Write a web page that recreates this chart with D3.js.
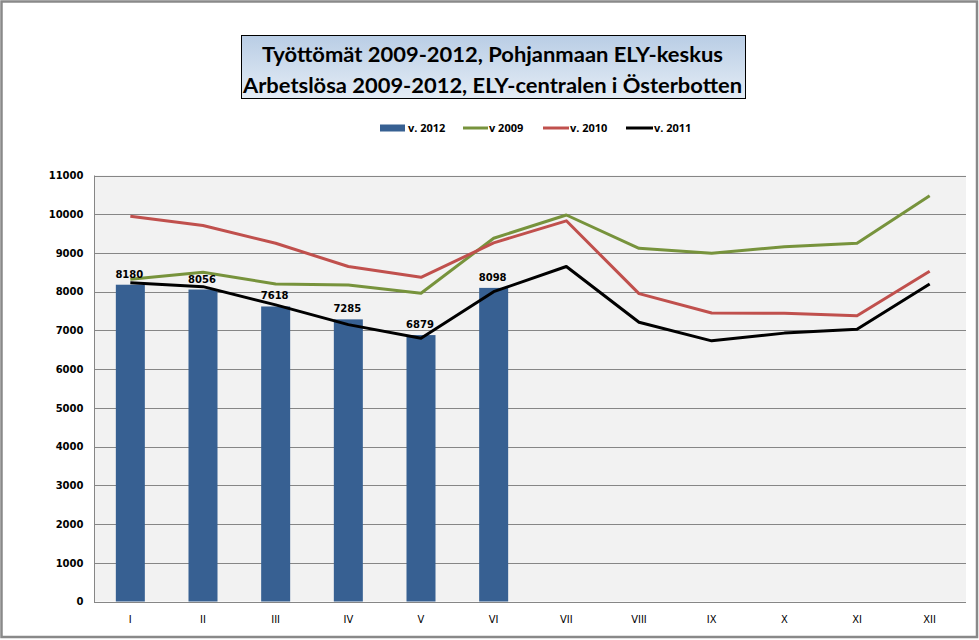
<!DOCTYPE html>
<html>
<head>
<meta charset="utf-8">
<script src="https://cdn.jsdelivr.net/npm/d3@7"></script>
<style>
  html, body { margin: 0; padding: 0; background: #fff; }
  svg { display: block; }
</style>
</head>
<body>
<svg id="chart" width="979" height="640"></svg>
<script>
const months = ["I","II","III","IV","V","VI","VII","VIII","IX","X","XI","XII"];
const v2012 = [8180, 8056, 7618, 7285, 6879, 8098];
const v2009 = [8320, 8500, 8200, 8170, 7960, 9380, 9980, 9120, 8990, 9160, 9250, 10480];
const v2010 = [9950, 9710, 9250, 8650, 8370, 9260, 9830, 7950, 7450, 7440, 7380, 8530];
const v2011 = [8230, 8130, 7660, 7150, 6800, 8000, 8650, 7210, 6730, 6930, 7030, 8200];
const yTicks = [0,1000,2000,3000,4000,5000,6000,7000,8000,9000,10000,11000];
const titleLines = ["Työttömät 2009-2012, Pohjanmaan ELY-keskus", "Arbetslösa 2009-2012, ELY-centralen i Österbotten"];
const legendLabels = ["v. 2012", "v 2009", "v. 2010", "v. 2011"];

const colors = { bar: "#376092", g: "#77933C", r: "#C0504D", k: "#000000" };

const svg = d3.select("#chart");

// Outer frame
svg.append("rect").attr("x", 1.5).attr("y", 1.5).attr("width", 975.5).attr("height", 635.5)
  .attr("fill", "#fff").attr("stroke", "#898989").attr("stroke-width", 2.5);

const plot = { left: 94, right: 966, top: 175.5, bottom: 601.5 };

const x = d3.scaleBand().domain(months).range([plot.left, plot.right]).padding(0);
const xBar = d3.scaleBand().domain(months).range([plot.left, plot.right]).paddingInner(0.6).paddingOuter(0.3);
const y = d3.scaleLinear().domain([0, 11000]).range([plot.bottom, plot.top]);
const cx = m => x(m) + x.bandwidth() / 2;

// plot background
svg.append("rect").attr("x", plot.left).attr("y", plot.top)
  .attr("width", plot.right - plot.left).attr("height", plot.bottom - plot.top)
  .attr("fill", "#f2f2f2");

// gridlines
svg.append("g").selectAll("line").data(yTicks).join("line")
  .attr("x1", plot.left).attr("x2", plot.right)
  .attr("y1", d => Math.round(y(d)) + 0.5).attr("y2", d => Math.round(y(d)) + 0.5)
  .attr("stroke", "#868686").attr("stroke-width", 1);

// y axis line
svg.append("line").attr("x1", plot.left + 0.5).attr("x2", plot.left + 0.5)
  .attr("y1", plot.top).attr("y2", plot.bottom + 0.5)
  .attr("stroke", "#868686");

// y tick labels
svg.append("g").selectAll("text").data(yTicks).join("text")
  .attr("x", 83.5).attr("y", d => y(d) + 3.8)
  .attr("text-anchor", "end")
  .attr("font-family", "DejaVu Sans, sans-serif").attr("font-weight", "bold").attr("font-size", 10)
  .attr("fill", "#000")
  .text(d => d);

// x tick labels
svg.append("g").selectAll("text").data(months).join("text")
  .attr("x", d => cx(d)).attr("y", 623)
  .attr("text-anchor", "middle")
  .attr("font-family", "'Liberation Sans Narrow', 'DejaVu Sans Condensed', sans-serif").attr("font-size", 11)
  .attr("fill", "#000")
  .text(d => d);

// bars
const barData = v2012.map((v, i) => ({ m: months[i], v }));
svg.append("g").selectAll("rect").data(barData).join("rect")
  .attr("x", d => cx(d.m) - 14.5).attr("width", 29)
  .attr("y", d => y(d.v)).attr("height", d => y(0) - y(d.v))
  .attr("fill", colors.bar);

// lines
const line = d3.line().x((d, i) => cx(months[i])).y(d => y(d));
[[v2009, colors.g], [v2010, colors.r], [v2011, colors.k]].forEach(([vals, c]) => {
  svg.append("path").datum(vals).attr("d", line)
    .attr("fill", "none").attr("stroke", c).attr("stroke-width", 3)
    .attr("stroke-linejoin", "round");
});

// data labels
svg.append("g").selectAll("text").data(barData).join("text")
  .attr("x", d => cx(d.m) - 1).attr("y", d => y(d.v) - 7)
  .attr("text-anchor", "middle")
  .attr("font-family", "DejaVu Sans, sans-serif").attr("font-weight", "bold").attr("font-size", 10)
  .attr("fill", "#000")
  .text(d => d.v);

// x axis line
svg.append("line").attr("x1", plot.left).attr("x2", plot.right)
  .attr("y1", Math.round(y(0)) + 0.5).attr("y2", Math.round(y(0)) + 0.5)
  .attr("stroke", "#868686");

// title box
const defs = svg.append("defs");
const grad = defs.append("linearGradient").attr("id", "tg").attr("x1", 0).attr("y1", 0).attr("x2", 0).attr("y2", 1);
grad.append("stop").attr("offset", "0%").attr("stop-color", "#b9cde5");
grad.append("stop").attr("offset", "100%").attr("stop-color", "#e4ecf5");
svg.append("rect").attr("x", 241.5).attr("y", 35.5).attr("width", 504).attr("height", 63)
  .attr("fill", "url(#tg)").attr("stroke", "#000").attr("stroke-width", 1);
const titleX = [262, 243], titleW = [461, 499], titleY = [61.5, 93];
titleLines.forEach((t, i) => {
  svg.append("text").attr("x", titleX[i]).attr("y", titleY[i])
    .attr("textLength", titleW[i]).attr("lengthAdjust", "spacingAndGlyphs")
    .attr("font-family", "Lato, sans-serif").attr("font-weight", "bold").attr("font-size", 21)
    .attr("fill", "#000").text(t);
});

// legend
const legendItems = [
  { label: legendLabels[0], type: "bar", c: colors.bar, x0: 380, x1: 405, tx: 408 },
  { label: legendLabels[1], type: "line", c: colors.g, x0: 463, x1: 488, tx: 489 },
  { label: legendLabels[2], type: "line", c: colors.r, x0: 543, x1: 569, tx: 570 },
  { label: legendLabels[3], type: "line", c: colors.k, x0: 626, x1: 653, tx: 654 }
];
const lg = svg.append("g");
legendItems.forEach(it => {
  if (it.type === "bar") {
    lg.append("rect").attr("x", it.x0).attr("y", 124.5).attr("width", it.x1 - it.x0).attr("height", 7).attr("fill", it.c);
  } else {
    lg.append("line").attr("x1", it.x0).attr("x2", it.x1).attr("y1", 128).attr("y2", 128)
      .attr("stroke", it.c).attr("stroke-width", 3);
  }
  lg.append("text").attr("x", it.tx).attr("y", 132)
    .attr("font-family", "'Open Sans', sans-serif").attr("font-weight", "bold").attr("font-size", 11)
    .attr("fill", "#000").text(it.label);
});
</script>
</body>
</html>
